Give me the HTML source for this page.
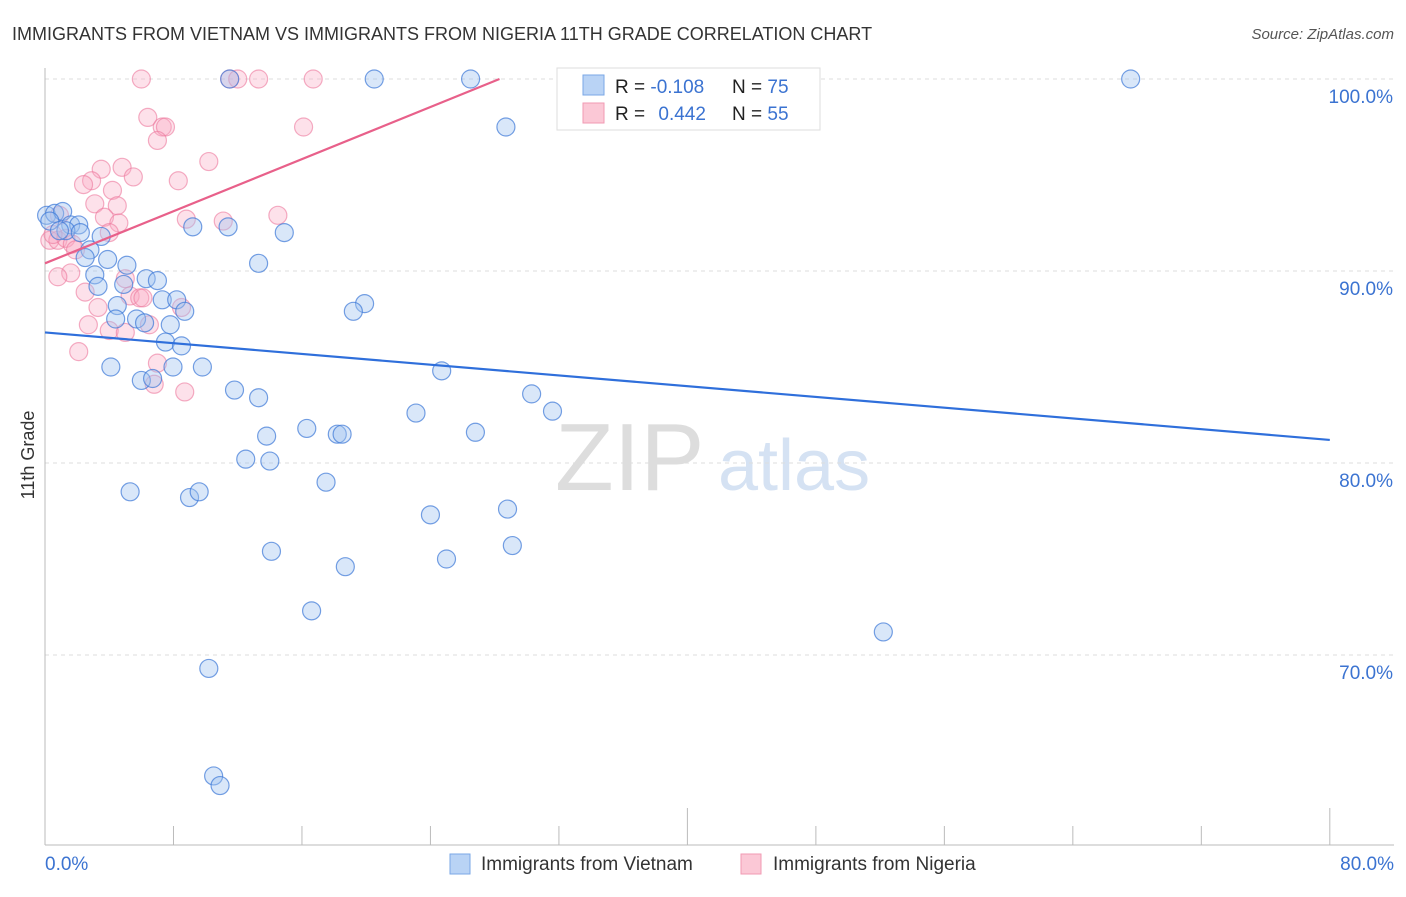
<!DOCTYPE html>
<html><head><meta charset="utf-8"><style>
body{margin:0;background:#fff;font-family:"Liberation Sans",sans-serif;}
svg text{font-family:"Liberation Sans",sans-serif;}
</style></head><body>
<svg id="c" width="1406" height="892" viewBox="0 0 1406 892" xmlns="http://www.w3.org/2000/svg">
<text x="12" y="40" font-size="18" fill="#333">IMMIGRANTS FROM VIETNAM VS IMMIGRANTS FROM NIGERIA 11TH GRADE CORRELATION CHART</text>
<text x="1394" y="39" font-size="15" fill="#555" font-style="italic" text-anchor="end">Source: ZipAtlas.com</text>
<g><text x="555" y="490" font-size="96" font-family="Liberation Serif" fill="#ddd">ZIP</text><text x="718" y="490" font-size="72" fill="#d5e2f3">atlas</text></g>
<g id="grid"></g>
<g id="axes"></g>
<g id="pts"></g>
<g id="trend"></g>
<text transform="translate(34,455) rotate(-90)" font-size="18" fill="#333" text-anchor="middle">11th Grade</text>
<g>
<rect x="557" y="68" width="263" height="62" fill="#fff" stroke="#ddd"/>
<rect x="583" y="75" width="21" height="20" fill="#b9d3f5" stroke="#7aa7e6"/>
<rect x="583" y="103" width="21" height="20" fill="#fbc8d6" stroke="#f09ab3"/>
<text x="615" y="93" font-size="19" fill="#222">R = <tspan fill="#3b73d1">-0.108</tspan></text>
<text x="732" y="93" font-size="19" fill="#222">N = <tspan fill="#3b73d1">75</tspan></text>
<text x="615" y="120" font-size="19" fill="#222">R = <tspan fill="#3b73d1" dx="8">0.442</tspan></text>
<text x="732" y="120" font-size="19" fill="#222">N = <tspan fill="#3b73d1">55</tspan></text>
</g>
<g>
<rect x="450" y="854" width="20" height="20" fill="#b9d3f5" stroke="#7aa7e6"/>
<text x="481" y="870" font-size="19" fill="#333">Immigrants from Vietnam</text>
<rect x="741" y="854" width="20" height="20" fill="#fbc8d6" stroke="#f09ab3"/>
<text x="773" y="870" font-size="19" fill="#333">Immigrants from Nigeria</text>
</g>
</svg>
<script>
const yTicks=[100,90,80,70];
const yTickLabels=["100.0%","90.0%","80.0%","70.0%"];
const xTickLabels=["0.0%","80.0%"];
const vietX=[67.6,20.5,26.5,43.1,11.5,28.7,0.1,0.6,1.1,0.3,1.6,2.1,1.3,2.2,0.9,9.2,11.4,14.9,3.5,2.8,2.5,3.9,5.1,13.3,3.1,6.3,7.0,3.3,4.9,7.3,8.2,4.5,19.9,19.2,8.7,4.4,5.7,6.2,7.8,7.5,8.5,4.1,7.97,9.8,24.7,6.0,6.7,11.8,13.3,30.3,23.1,31.6,13.8,16.3,18.2,18.5,26.8,12.5,14.0,17.5,5.3,9.0,9.6,24.0,28.8,14.1,29.1,25.0,18.7,16.6,52.2,10.2,10.5,10.9];
const vietY=[100,100,100,100,100,97.5,90.3+2.6,93.0,93.1,92.6,92.4,92.4,92.1,92.0,92.1,92.3,92.3,92.0,91.8,91.1,90.7,90.6,90.3,90.4,89.8,89.6,89.5,89.2,89.3,88.5,88.5,88.2,88.3,87.9,87.9,87.5,87.5,87.3,87.2,86.3,86.1,85.0,85.0,85.0,84.8,84.3,84.4,83.8,83.4,83.6,82.6,82.7,81.4,81.8,81.5,81.5,81.6,80.2,80.1,79.0,78.5,78.2,78.5,77.3,77.6,75.4,75.7,75.0,74.6,72.3,71.2,69.3,63.7,63.2];
const nigX=[6.0,11.5,12.0,13.3,16.7,6.4,7.3,7.5,7.0,16.1,10.2,3.5,4.8,5.5,8.3,2.9,2.4,4.2,3.1,4.5,3.7,4.6,8.8,11.1,14.5,0.9,0.3,0.8,1.3,1.7,4.0,0.5,1.9,1.6,0.8,5.0,2.5,5.3,5.9,6.1,3.3,8.5,2.7,4.0,5.0,6.5,2.1,7.0,6.8,8.7];
const nigY=[100,100,100,100,100,98.0,97.5,97.5,96.8,97.5,95.7,95.3,95.4,94.9,94.7,94.7,94.5,94.2,93.5,93.4,92.8,92.5,92.7,92.6,92.9,92.9,91.6,91.6,91.7,91.4,92.0,91.9,91.1,89.9,89.7,89.6,88.9,88.7,88.6,88.6,88.1,88.1,87.2,86.9,86.8,87.2,85.8,85.2,84.1,83.7];
const trendV=[[0,86.8],[80,81.2]];
const trendN=[[0,90.4],[28.3,100]];
const X=v=>45+v*16.06, Y=v=>79+(100-v)*19.2;
const NS="http://www.w3.org/2000/svg";
function mk(tag,attrs,parent){const e=document.createElementNS(NS,tag);for(const k in attrs)e.setAttribute(k,attrs[k]);document.getElementById(parent).appendChild(e);return e;}
yTicks.forEach((t,i)=>{
 const l=mk('line',{x1:45,x2:1394,y1:Y(t),y2:Y(t),stroke:'#ddd','stroke-dasharray':'4,4'},'grid');
 
 
 const tx=mk('text',{x:1393,y:Y(t)+24,'font-size':19,fill:'#3b73d1','text-anchor':'end'},'grid');
 tx.textContent=yTickLabels[i];
 
 
});
let a=mk('line',{x1:45,x2:45,y1:68,y2:845,stroke:'#bbb'},'axes');


a=mk('line',{x1:45,x2:1394,y1:845,y2:845,stroke:'#bbb'},'axes');


for(let i=0;i<=10;i++){
 const v=i*8;const t=mk('line',{x1:X(v),x2:X(v),y1:(i==5||i==10)?808:826,y2:845,stroke:'#bbb'},'axes');
 
 
}
[[0,'start',45],[1,'end',1394]].forEach(([i,anc,x])=>{
 const t=mk('text',{x:x,y:870,'font-size':19,fill:'#3b73d1','text-anchor':anc},'axes');
 t.textContent=xTickLabels[i];
 
 
});
nigX.forEach((v,i)=>{
 const c=mk('circle',{cx:X(v),cy:Y(nigY[i]),r:9,fill:'rgba(248,170,194,0.35)',stroke:'rgba(236,120,156,0.6)','stroke-width':1.2},'pts');
 
 
});
vietX.forEach((v,i)=>{
 const c=mk('circle',{cx:X(v),cy:Y(vietY[i]),r:9,fill:'rgba(160,196,240,0.4)',stroke:'rgba(60,120,215,0.7)','stroke-width':1.2},'pts');
 
 
});
let tl=mk('line',{x1:X(trendV[0][0]),y1:Y(trendV[0][1]),x2:X(trendV[1][0]),y2:Y(trendV[1][1]),stroke:'#2f6fdb','stroke-width':2.2},'trend');


tl=mk('line',{x1:X(trendN[0][0]),y1:Y(trendN[0][1]),x2:X(trendN[1][0]),y2:Y(trendN[1][1]),stroke:'#e8608a','stroke-width':2.2},'trend');


</script>
</body></html>
